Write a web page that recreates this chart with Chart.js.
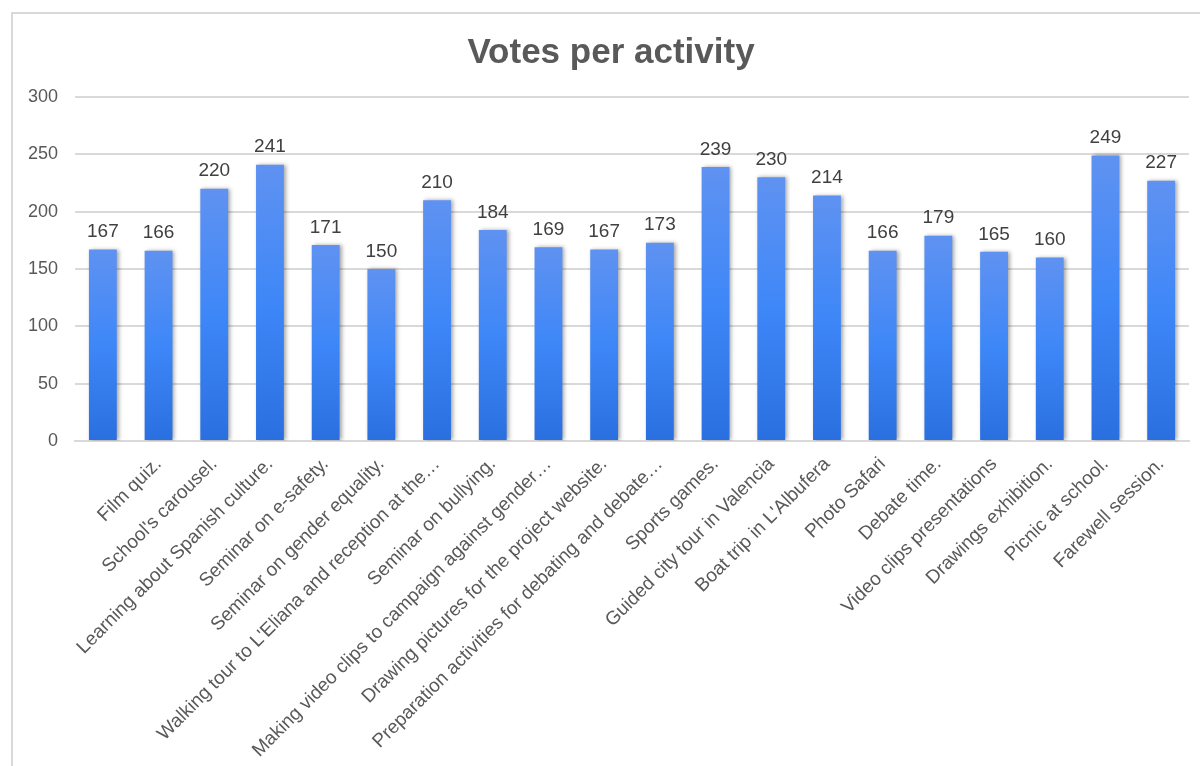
<!DOCTYPE html>
<html>
<head>
<meta charset="utf-8">
<script src="https://cdn.jsdelivr.net/npm/chart.js@4.4.0/dist/chart.umd.min.js"></script>
<style>
    body { margin: 0; background: #fff; }
    .wrap { position: relative; width: 1200px; height: 766px; overflow: hidden; }
    .frame { position: absolute; left: 11px; top: 12px; width: 1300px; height: 900px; border: 2px solid #d9d9d9; }
    .chart-box { position: absolute; left: 0; top: 0; width: 1200px; height: 766px; }
</style>
</head>
<body>
<div class="wrap">
    <div class="frame"></div>
    <div class="chart-box"><canvas id="votesChart"></canvas></div>
</div>
<script>
// Chart data
const chartTitle = 'Votes per activity';
const activities = [
    '',
    'Film quiz.',
    "School's carousel.",
    'Learning about Spanish culture.',
    'Seminar on e-safety.',
    'Seminar on gender equality.',
    "Walking tour to L'Eliana and reception at the\u2026",
    'Seminar on bullying.',
    'Making video clips to campaign against gender\u2026',
    'Drawing pictures for the project website.',
    'Preparation activities for debating and debate\u2026',
    'Sports games.',
    'Guided city tour in Valencia',
    "Boat trip in L'Albufera",
    'Photo Safari',
    'Debate time.',
    'Video clips presentations',
    'Drawings exhibition.',
    'Picnic at school.',
    'Farewell session.'
];
const votes = [167, 166, 220, 241, 171, 150, 210, 184, 169, 167, 173, 239, 230, 214, 166, 179, 165, 160, 249, 227];
const yTicks = [0, 50, 100, 150, 200, 250, 300];

const textColor = '#595959';
const gridColor = '#d9d9d9';
const fontFamily = '"Liberation Sans", Arial, sans-serif';

// gradient per bar, from its own top down to the baseline
function barGradient(context) {
    const chart = context.chart;
    const yScale = chart.scales.y;
    if (!yScale || context.raw === undefined) return '#3e87f8';
    const top = yScale.getPixelForValue(context.raw);
    const bottom = yScale.getPixelForValue(0);
    if (!Number.isFinite(top) || !Number.isFinite(bottom) || top === bottom) return '#3e87f8';
    const g = chart.ctx.createLinearGradient(0, top, 0, bottom);
    g.addColorStop(0, '#5f92f1');
    g.addColorStop(0.5, '#3e87f8');
    g.addColorStop(1, '#2a6fdf');
    return g;
}

// soft shadow behind the bars
const barShadow = {
    id: 'barShadow',
    beforeDatasetDraw(chart) {
        const ctx = chart.ctx;
        ctx.save();
        ctx.shadowColor = 'rgba(0, 0, 0, 0.35)';
        ctx.shadowBlur = 4;
        ctx.shadowOffsetX = 2;
        ctx.shadowOffsetY = 0;
    },
    afterDatasetDraw(chart) {
        chart.ctx.restore();
    }
};

// value labels above each bar
const valueLabels = {
    id: 'valueLabels',
    afterDatasetsDraw(chart) {
        const ctx = chart.ctx;
        const meta = chart.getDatasetMeta(0);
        ctx.save();
        ctx.font = '19px ' + fontFamily;
        ctx.fillStyle = '#404040';
        ctx.textAlign = 'center';
        ctx.textBaseline = 'bottom';
        meta.data.forEach((bar, i) => {
            ctx.fillText(String(votes[i]), bar.x, bar.y - 8);
        });
        ctx.restore();
    }
};

// title, centred like the original (slightly right of the canvas middle)
const titleText = {
    id: 'titleText',
    afterDraw(chart) {
        const ctx = chart.ctx;
        ctx.save();
        ctx.font = 'bold 35px ' + fontFamily;
        ctx.fillStyle = textColor;
        ctx.textAlign = 'center';
        ctx.textBaseline = 'alphabetic';
        ctx.fillText(chartTitle, 611, 63);
        ctx.restore();
    }
};

document.addEventListener('DOMContentLoaded', function() {
    const ctx = document.getElementById('votesChart').getContext('2d');
    new Chart(ctx, {
        type: 'bar',
        data: {
            labels: activities,
            datasets: [{
                label: 'Votes',
                data: votes,
                backgroundColor: barGradient,
                borderWidth: 0,
                barPercentage: 0.5,
                categoryPercentage: 1.0
            }]
        },
        options: {
            responsive: true,
            maintainAspectRatio: false,
            animation: false,
            layout: { padding: { top: 97, right: 11, bottom: 0, left: 0 } },
            plugins: {
                legend: { display: false },
                tooltip: { enabled: false },
                title: { display: false }
            },
            scales: {
                x: {
                    grid: { display: false, drawTicks: false },
                    border: { display: true, color: gridColor, width: 2 },
                    ticks: {
                        autoSkip: false,
                        minRotation: 45,
                        maxRotation: 45,
                        padding: 12,
                        color: textColor,
                        font: { family: fontFamily, size: 19 }
                    },
                    afterFit(scale) { scale.height = 325; }
                },
                y: {
                    min: 0,
                    max: 300,
                    afterBuildTicks(scale) { scale.ticks = yTicks.map(v => ({ value: v })); },
                    grid: { color: gridColor, lineWidth: 2, drawTicks: false },
                    border: { display: false },
                    ticks: {
                        padding: 17,
                        color: textColor,
                        font: { family: fontFamily, size: 18 }
                    },
                    afterFit(scale) { scale.width = 75; }
                }
            }
        },
        plugins: [barShadow, valueLabels, titleText]
    });
});
</script>
</body>
</html>
